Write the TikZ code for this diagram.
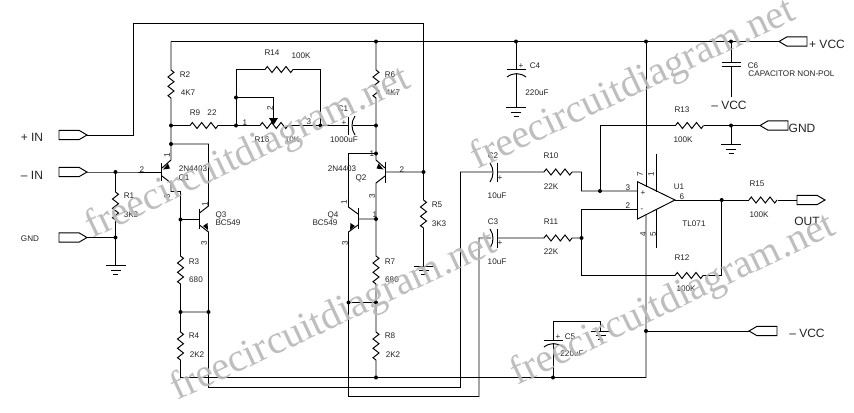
\documentclass[tikz,border=0pt]{standalone}
\usepackage{fontspec}
\setmainfont{Liberation Sans}
\newfontfamily\wmfont{Liberation Serif}
\definecolor{wmgrey}{RGB}{186,184,184}
\definecolor{ink}{RGB}{35,35,35}
\tikzset{
  wire/.style={line width=.72pt,draw=black},
  lab/.style={inner sep=0pt,text=ink,font=\fontsize{6.1}{7}\selectfont},
  pin/.style={lab,rotate=90},
  big/.style={inner sep=0pt,text=ink,font=\fontsize{9}{10}\selectfont},
  wm/.style={inner sep=0pt,anchor=base west,text=wmgrey,opacity=.92,font=\wmfont\fontsize{30}{30}\selectfont},
  res/.pic={\draw[wire] (0,0)--(2.3,-3)--(7,3)--(11.7,-3)--(16.3,3)--(21,-3)--(25.7,3)--(28,0);},
  gnd/.pic={\draw[wire] (-10,0)--(10,0) (-5,4.5)--(5,4.5) (-2.5,8.5)--(2.5,8.5);},
  port/.pic={\draw[wire,fill=white] (0,0)--(-8,-4.7)--(-28,-4.7)--(-28,4.7)--(-8,4.7)--cycle;}
}
\begin{document}
\begin{tikzpicture}[x=.75pt,y=-.75pt,line width=.72pt]
\useasboundingbox (0,0) rectangle (854,412);
% --- named points
\foreach \n/\x/\y in {
 pIn/87/135, mIn/87/172, gIn/87/237.5, jB1/115.5/172, R1a/115.5/192, R1b/115.5/220, jG/115.5/237.5, g1/115.5/265.5,
 tl/133.5/135, tlt/133.5/23, tr/423.5/23, jB2/423.5/172, R5a/423.5/200, R5b/423.5/228, g5/423.5/266,
 rl/171/41.5, R2a/171/70, R2b/171/98, j9/171/125.5, jE1/171/144, R9a/190/125.5, R9b/218/125.5, j14/236/125.5,
 u14/236/69.5, R14a/265/69.5, R14b/293/69.5, o14/320.5/69.5, j16/320.5/125.5, jW/236/97.5, wW/273.5/97.5, wT/273.5/118,
 R16a/260/125.5, R16b/288/125.5, C1a/348.5/125.5, C1b/353/125.5, jC1/376/125.5,
 jR6/376/41.5, R6a/376/70, R6b/376/98, jE2/376/153.5, l2/348.5/153.5, b2/385/172,
 Q1b/161.7/172, Q1et/171/160, Q1e/162/168, Q1c/162/176, Q1ct/171/183, Q1cb/171/191.5, k1/180.5/191.5,
 e1r/208.5/144, Q3ct/208.5/206, Q3c/199.5/213, Q3e/199.5/225, Q3et/208.5/232, jB3/180.5/219.5, Q3b/199.5/219.5,
 R3a/180.5/256, R3b/180.5/284, j3/180.5/312, j4/208.5/312, R4a/180.5/332, R4b/180.5/360, rb/180.5/377.5, b4/208.5/387.5,
 Q2e/385/168, Q2et/376/160, Q2c/385/176, Q2ct/376/183, jB4/376/219, Q4b/358/219, Q4c/358/214, Q4ct/348.5/207, Q4e/358/225, Q4et/348.5/232,
 R7a/376/256, R7b/376/284, j7/376/302.5, j7l/348.5/302.5, R8a/376/332, R8b/376/360, j8/376/377.5,
 b5/348.5/396.5, b5r/479/396.5, c3u/479/238, C3a/491/238, C3b/497.5/238, R11a/544/238, R11b/572/238, j11/581.5/238,
 b4r/460.5/387.5, c2u/460.5/172, C2a/492/172, C2b/497.5/172, R10a/544/172, R10b/572/172, k10/581.5/172, j10/581.5/191, j13/600/191,
 opP/637.5/191, k11/581.5/209, opM/637.5/209, k12/581.5/275.5, R12a/675/275.5, R12b/703/275.5, k12r/721.7/275.5,
 opO/675/200, jO/721.7/200, R15a/749/200, R15b/778/200, out/825/200,
 u13/600/125.5, R13a/675.5/125.5, R13b/703.5/125.5, jG2/731/125.5, gR/760/125.5, g2/731/144.5,
 jR1/516/41.5, C4a/516/69.5, C4b/516/73, g4/516/107.5, jU/646/41.5, jV/731/41.5, vR/779/41.5, C6a/731/62.5, C6b/731/66.5, C6e/731/97,
 opT/646/186.5, opB/646/214, jN/646/331, nR/749/331, rbr/646/377.5, jC5/553/377.5, C5a/553/340, C5b/553/344, C5t/553/321, C5r/600.7/321, g6/600.7/331,
 s1/656.5/153.5, s2/656.5/192, s3/656.5/209, s4/656.5/247.7}
 {\coordinate (\n) at (\x,\y);}
% --- wires
\draw[wire] (pIn)--(tl)--(tlt)--(tr)--(jB2)--(R5a) (R5b)--(g5);
\draw[wire] (mIn)--(jB1)--(Q1b) (jB1)--(R1a) (R1b)--(jG)--(g1) (gIn)--(jG);
\draw[wire] (rl)--(vR) (rl)--(R2a) (R2b)--(j9)--(jE1)--(Q1et)--(Q1e);
\draw[wire] (j9)--(R9a) (R9b)--(j14)--(R16a) (j14)--(u14)--(R14a) (R14b)--(o14)--(j16) (jW)--(wW)--(wT) (R16b)--(j16)--(C1a);
\draw[wire] (C1b)--(jC1) (jR6)--(R6a) (R6b)--(jC1)--(jE2)--(Q2et)--(Q2e);
\draw[wire] (jE2)--(l2)--(Q4ct)--(Q4c) (Q4e)--(Q4et)--(b5)--(b5r)--(c3u)--(C3a) (C3b)--(R11a) (R11b)--(j11);
\draw[wire] (b2)--(jB2) (Q2c)--(Q2ct)--(jB4)--(R7a) (R7b)--(j7)--(R8a) (R8b)--(j8) (jB4)--(Q4b) (j7)--(j7l);
\draw[wire] (Q1c)--(Q1ct)--(Q1cb)--(k1)--(jB3)--(R3a) (R3b)--(j3)--(R4a) (R4b)--(rb)--(rbr)--(jN)--(opB) (jB3)--(Q3b);
\draw[wire] (jE1)--(e1r)--(Q3ct)--(Q3c) (Q3e)--(Q3et)--(j4)--(b4)--(b4r)--(c2u)--(C2a) (C2b)--(R10a) (R10b)--(k10)--(j10)--(opP) (j3)--(j4);
\draw[wire] (j11)--(k11)--(opM) (j11)--(k12)--(R12a) (R12b)--(k12r)--(jO) (opO)--(R15a) (R15b)--(out);
\draw[wire] (j13)--(u13)--(R13a) (R13b)--(gR) (jG2)--(g2);
\draw[wire] (jR1)--(C4a) (C4b)--(g4) (jU)--(opT) (jV)--(C6a) (C6b)--(C6e) (jN)--(nR) (jC5)--(C5b) (C5a)--(C5t)--(C5r)--(g6);
\draw[wire] (s1)--(s2) (s3)--(s4);
% --- resistors
\foreach \n in {R9a,R14a,R16a,R10a,R11a,R12a,R13a,R15a} \pic at (\n) {res};
\foreach \n in {R1a,R2a,R3a,R4a,R5a,R6a,R7a,R8a} \pic[rotate=-90] at (\n) {res};
% --- grounds
\foreach \n in {g1,g2,g4,g5,g6} \pic at (\n) {gnd};
% --- ports
\foreach \n in {pIn,mIn,gIn,out} \pic at (\n) {port};
\foreach \n in {vR,gR,nR} \pic[rotate=180] at (\n) {port};
% --- transistors
\draw[wire] (161.7,163)--(161.7,181) (385,162)--(385,183) (199.5,209)--(199.5,229) (358,208)--(358,229);
\fill (163,169.5)--(168,163.5)--(170,168.5)--cycle;
\fill (383.5,169.5)--(378.5,163.5)--(376.5,168.5)--cycle;
\fill (208,230)--(203,226)--(207.5,223)--cycle;
\fill (350,230)--(355,226)--(350.5,223)--cycle;
% --- wiper
\fill (269,118)--(278,118)--(273.5,125)--cycle;
% --- capacitors
\draw[wire] (C1a)++(0,-9)--++(0,18);
\draw[wire] (355,116) .. controls (351,122) and (351,129) .. (355,135);
\draw[wire] (C2b)++(0,-9.5)--++(0,19);
\draw[wire] (490,163) .. controls (494,169) and (494,176) .. (490,182);
\draw[wire] (C3b)++(0,-9.5)--++(0,19);
\draw[wire] (490,229) .. controls (494,235) and (494,242) .. (490,248);
\draw[wire] (C4a)++(-9.5,0)--++(19,0);
\draw[wire] (507,77) .. controls (513,72.5) and (520,72.5) .. (526,77);
\draw[wire] (C5a)++(-9.5,0)--++(19,0);
\draw[wire] (544,347) .. controls (550,342.5) and (557,342.5) .. (563,347);
\draw[wire] (C6a)++(-9.5,0)--++(19,0) (C6b)++(-9.5,0)--++(19,0);
% --- op amp
\draw[wire] (637.5,181.7)--(opO)--(637.5,219)--cycle;
% --- junction dots
\foreach \n in {jB1,jG,j9,jE1,j14,jW,j16,jC1,jR6,jE2,jB2,jB3,j3,j4,jB4,j7,j7l,j8,j11,j13,jO,jG2,jR1,jU,jV,jN,jC5}
  \fill (\n) circle (2);
% --- labels
\node[big] (tPIn) at (32,137) {+ IN};
\node[big] (tMIn) at (32,175) {– IN};
\node[lab] (tGnd) at (30,239) {GND};
\node[lab] (tR1) at (129,196) {R1};
\node[lab] (t3K3a) at (131,215) {3K3};
\node[lab] (tR2) at (185,75) {R2};
\node[lab] (t4K7a) at (188,93) {4K7};
\node[lab] (tR9) at (195,113) {R9};
\node[lab] (t22) at (212,113) {22};
\node[lab] (tR14) at (272,53) {R14};
\node[lab] (t100Ka) at (301,56) {100K};
\node[lab] (tp1a) at (245,123) {1};
\node[pin] (tp2a) at (270,108) {2};
\node[lab] (tp3a) at (309,122) {3};
\node[lab] (tR16) at (262,140) {R16};
\node[lab] (t10K) at (292,140) {10K};
\node[lab] (tC1) at (343,109) {C1};
\node[lab] (t1000) at (344,140) {1000uF};
\node[lab] (tR6) at (390,75) {R6};
\node[lab] (t4K7b) at (393,93) {4K7};
\node[pin] (tq1a) at (167,155) {1};
\node[lab] (tq1b) at (142,170) {2};
\node[pin] (tq1c) at (167,196) {3};
\node[lab] (t2Na) at (193,169) {2N4403};
\node[lab] (tQ1) at (184,178) {Q1};
\node[pin] (tq3a) at (205,204) {1};
\node[lab] (tQ3) at (221,215) {Q3};
\node[lab] (tBCa) at (228,223) {BC549};
\node[pin] (tq3c) at (204,243) {3};
\node[lab] (tR3) at (194,262) {R3};
\node[lab] (t680a) at (196,280) {680};
\node[lab] (tR4) at (194,336) {R4};
\node[lab] (t2K2a) at (197,355) {2K2};
\node[lab] (t2Nb) at (342,169) {2N4403};
\node[lab] (tQ2) at (361,178) {Q2};
\node[lab] (tq2a) at (372,154) {1};
\node[lab] (tq2b) at (402,170) {2};
\node[pin] (tq2c) at (372,196) {3};
\node[pin] (tq4a) at (344,202) {1};
\node[lab] (tQ4) at (333,215) {Q4};
\node[lab] (tBCb) at (325,223) {BC549};
\node[lab] (tq4b) at (375,215) {1};
\node[pin] (tq4c) at (345,243) {3};
\node[lab] (tR7) at (390,262) {R7};
\node[lab] (t680b) at (392,280) {680};
\node[lab] (tR8) at (390,336) {R8};
\node[lab] (t2K2b) at (393,355) {2K2};
\node[lab] (tR5) at (437,205) {R5};
\node[lab] (t3K3b) at (439,224) {3K3};
\node[lab] (tC4) at (535,66) {C4};
\node[lab] (tC4p) at (521,66) {+};
\node[lab] (t220a) at (537,93) {220uF};
\node[lab] (tC1p) at (344,123) {+};
\node[lab] (tC2) at (493,156) {C2};
\node[lab] (tC2p) at (500,178) {+};
\node[lab] (t10a) at (497,196) {10uF};
\node[lab] (tR10) at (551,156) {R10};
\node[lab] (t22a) at (551,187) {22K};
\node[lab] (tC3) at (493,222) {C3};
\node[lab] (tC3p) at (500,243) {+};
\node[lab] (t10b) at (497,262) {10uF};
\node[lab] (tR11) at (551,222) {R11};
\node[lab] (t22b) at (551,252) {22K};
\node[lab] (tC5p) at (558,337) {+};
\node[lab] (tC5) at (570,337) {C5};
\node[lab] (t220b) at (572,354) {220uF};
\node[lab] (tR13) at (682,110) {R13};
\node[lab] (t100Kb) at (683,140) {100K};
\node[big] (tGnd2) at (802,128) {GND};
\node[lab] (tR15) at (757,184) {R15};
\node[lab] (t100Kc) at (759,215) {100K};
\node[big] (tOut) at (807,221) {OUT};
\node[lab] (tU1) at (679,187) {U1};
\node[lab] (tp6) at (682,197) {6};
\node[lab] (tTL) at (694,224) {TL071};
\node[lab] (tR12) at (682,258) {R12};
\node[lab] (t100Kd) at (686,289) {100K};
\node[lab] (tp3) at (628,188) {3};
\node[lab] (tp2) at (628,206) {2};
\node[lab] (tpl) at (643,193) {+};
\node[lab] (tmi) at (642,210) {-};
\node[pin] (tp7) at (640,174) {7};
\node[pin] (tp1) at (651,174) {1};
\node[pin] (tp4) at (643,234) {4};
\node[pin] (tp5) at (653,234) {5};
\node[big] (tVcc) at (827,44) {+ VCC};
\node[big] (tVee) at (729,105) {– VCC};
\node[big] (tVee2) at (807,333) {– VCC};
\node[lab] (tC6) at (753,66) {C6};
\node[lab,anchor=west] (tC6b) at (748,74) {CAPACITOR NON-POL};
% --- watermark
\node[wm,rotate=25.5] (w1) at (92,239) {freecircuitdiagram.net};
\node[wm,rotate=25.2] (w2) at (477,170) {freecircuitdiagram.net};
\node[wm,rotate=25] (w3) at (177,401) {freecircuitdiagram.net};
\node[wm,rotate=25.5] (w4) at (517,386) {freecircuitdiagram.net};
\end{tikzpicture}
\end{document}
